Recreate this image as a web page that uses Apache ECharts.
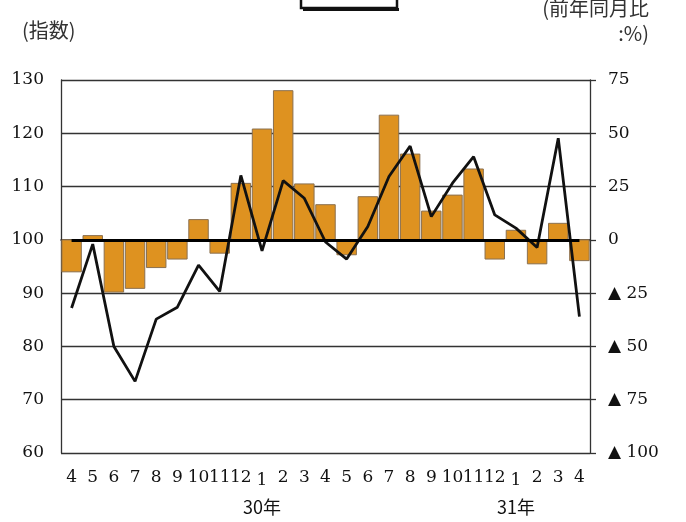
<!DOCTYPE html>
<html><head><meta charset="utf-8">
<script src="https://cdn.jsdelivr.net/npm/echarts@6/dist/echarts.min.js"></script>
<style>html,body{margin:0;padding:0;background:#fff}#c{width:686px;height:522px}</style>
</head><body><div id="c"></div>
<script>
const months = ['4','5','6','7','8','9','10','11','12','1','2','3','4','5','6','7','8','9','10','11','12','1','2','3','4'];
const yearLabels = {9:'30年', 21:'31年'};
const indexValues = [94, 100.8, 90.2, 90.9, 94.8, 96.4, 103.8, 97.5, 110.6, 120.8, 128, 110.5, 106.6, 97.2, 108.1, 123.4, 116.1, 105.4, 108.4, 113.3, 96.4, 101.8, 95.5, 103.1, 96.1];
const yoyValues = [-32, -2, -50, -66.4, -37.2, -31.6, -11.9, -24.2, 30.2, -5.2, 27.8, 19.5, -1, -9, 6.3, 29.7, 44, 10.9, 26.6, 39, 11.7, 5.5, -3.6, 47.7, -36];
const leftTicks = {min: 60, max: 130, interval: 10};
const rightTicks = {min: -100, max: 75, interval: 25};
const baseIndex = 100;

const serif = 'DejaVu Serif';
const cjk = 'Noto Sans CJK JP';
const chart = echarts.init(document.getElementById('c'));
chart.setOption({
  animation: false,
  backgroundColor: '#fff',
  grid: {left: 61, right: 96, top: 80, bottom: 69},
  xAxis: {
    type: 'category', data: months, boundaryGap: true,
    axisLine: {show: true, lineStyle: {color: '#222', width: 1.5}},
    axisTick: {show: false},
    axisLabel: {
      interval: 0, margin: 15, color: '#111', fontFamily: serif, fontSize: 17,
      formatter: (v, i) => yearLabels[i] ? '{m|' + v + '}\n{y|' + yearLabels[i] + '}' : '{n|' + v + '}',
      rich: {
        n: {fontFamily: serif, fontSize: 17, color: '#111', lineHeight: 20},
        m: {fontFamily: serif, fontSize: 17, color: '#111', lineHeight: 20, padding: [5, 0, 0, 0]},
        y: {fontFamily: cjk, fontSize: 18, color: '#111', lineHeight: 30, padding: [8, 0, 0, 0]}
      }
    },
    splitLine: {show: false}
  },
  yAxis: [{
    type: 'value', min: leftTicks.min, max: leftTicks.max, interval: leftTicks.interval,
    axisLine: {show: true, lineStyle: {color: '#333', width: 1.3}},
    axisTick: {show: false},
    axisLabel: {margin: 17, color: '#111', fontFamily: serif, fontSize: 17},
    splitLine: {show: true, lineStyle: {color: '#333', width: 1.3}}
  }, {
    type: 'value', min: rightTicks.min, max: rightTicks.max, interval: rightTicks.interval,
    position: 'right',
    axisLine: {show: true, lineStyle: {color: '#333', width: 1.3}},
    axisTick: {show: true, inside: false, length: 6, lineStyle: {color: '#333', width: 1.3}},
    axisLabel: {margin: 18, color: '#111', fontFamily: serif, fontSize: 17,
      formatter: v => v < 0 ? '▲ ' + (-v) : String(v)},
    splitLine: {show: false}
  }],
  series: [{
    type: 'custom',
    name: '指数',
    yAxisIndex: 0,
    data: indexValues.map((v, i) => [i, v]),
    encode: {x: 0, y: 1},
    renderItem: (params, api) => {
      const i = api.value(0), v = api.value(1);
      const top = api.coord([i, v]);
      const base = api.coord([i, baseIndex]);
      const w = api.size([1, 0])[0] * 0.92;
      const y = Math.min(top[1], base[1]);
      return {
        type: 'rect',
        shape: {x: top[0] - w / 2, y: y, width: w, height: Math.abs(top[1] - base[1])},
        style: {fill: '#DE9220', stroke: '#8a7050', lineWidth: 1}
      };
    },
    z: 2
  }, {
    type: 'line',
    name: '前年同月比',
    yAxisIndex: 1,
    data: yoyValues,
    symbol: 'none',
    lineStyle: {color: '#111', width: 2.8},
    z: 4,
    markLine: {
      silent: true, symbol: 'none', label: {show: false},
      lineStyle: {color: '#000', width: 3, type: 'solid'},
      data: [[{coord: [0, 0]}, {coord: [months.length - 1, 0]}]]
    }
  }],
  graphic: [
    {type: 'text', left: 22, top: 20, style: {text: '(指数)', font: '20px "Noto Sans CJK JP"', fill: '#333'}},
    {type: 'text', right: 37, top: -2, style: {text: '(前年同月比', font: '20px "Noto Sans CJK JP"', fill: '#333', align: 'right'}},
    {type: 'text', right: 37, top: 23, style: {text: ':%)', font: '20px "Noto Sans CJK JP"', fill: '#333', align: 'right'}},
    {type: 'rect', shape: {x: 301, y: -6, width: 96, height: 14}, style: {fill: '#fff', stroke: '#111', lineWidth: 2.5}},
    {type: 'rect', shape: {x: 303, y: 8, width: 96, height: 3}, style: {fill: '#111'}}
  ]
});
</script></body></html>
